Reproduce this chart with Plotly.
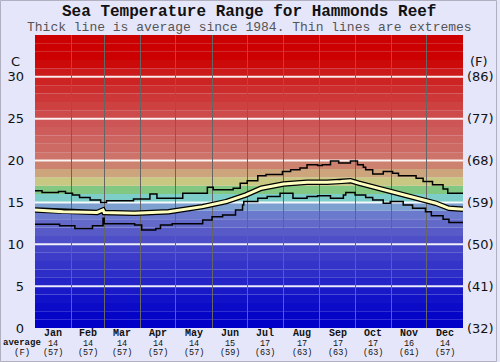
import plotly.graph_objects as go

# ---------------- data ----------------
months = ["Jan", "Feb", "Mar", "Apr", "May", "Jun", "Jul", "Aug", "Sep", "Oct", "Nov", "Dec"]
month_avg_c = [14, 14, 14, 14, 14, 15, 17, 17, 17, 17, 16, 14]
month_avg_f = [57, 57, 57, 57, 57, 59, 63, 63, 63, 63, 61, 57]
month_start_day = [0, 31, 59, 90, 120, 151, 181, 212, 243, 273, 304, 334, 365]

max_day = [0, 6, 20, 26, 32, 38, 47, 56, 61, 84, 98, 104, 126, 147, 152, 169, 175, 181, 190, 197,
           211, 218, 226, 232, 241, 245, 252, 259, 269, 275, 280, 282, 288, 297, 305, 310, 325,
           331, 339, 348, 352, 365]
max_c = [16.4, 16.2, 16.3, 16.1, 15.9, 15.6, 15.3, 15.0, 15.2, 15.4, 16.0, 15.5, 16.1, 16.8, 16.5,
         16.7, 17.3, 17.6, 18.2, 18.35, 18.7, 18.9, 19.1, 19.5, 19.4, 19.5, 19.95, 19.7, 19.95,
         19.5, 19.2, 18.9, 18.4, 18.7, 18.5, 18.2, 17.9, 17.5, 17.1, 16.6, 16.1, 16.1]

min_day = [0, 21, 34, 49, 58, 59, 85, 91, 103, 107, 117, 143, 151, 160, 171, 177, 178, 190, 198,
           209, 220, 232, 241, 252, 263, 265, 273, 282, 288, 297, 303, 314, 322, 333, 338, 348,
           353, 365]
min_c = [12.4, 12.2, 11.9, 12.2, 13.1, 12.45, 12.3, 11.7, 11.9, 12.3, 12.45, 12.9, 13.3, 13.5,
         14.1, 14.7, 15.1, 15.5, 15.7, 16.1, 15.5, 15.7, 15.8, 15.5, 15.9, 16.2, 15.9, 15.6, 15.3,
         14.9, 15.1, 14.7, 14.3, 13.9, 13.4, 13.0, 12.6, 12.6]

avg_day = [0, 24, 53, 58, 59, 85, 114, 143, 163, 180, 193, 212, 232, 249, 261, 269, 276, 293,
           310, 327, 342, 353, 365]
avg_c = [14.1, 13.9, 13.8, 14.1, 13.8, 13.7, 13.9, 14.5, 15.1, 15.9, 16.7, 17.2, 17.4, 17.4,
         17.5, 17.6, 17.3, 16.7, 16.1, 15.5, 14.9, 14.3, 14.2]

c_ticks = [0, 5, 10, 15, 20, 25, 30]
f_ticks = ["(32)", "(41)", "(50)", "(59)", "(68)", "(77)", "(86)"]

# ---------------- style ----------------
band_colors = [
    (0, 0, 200), (5, 5, 200), (12, 12, 200), (18, 18, 200), (25, 25, 200), (35, 35, 200),
    (45, 45, 200), (52, 52, 200), (60, 60, 200), (68, 68, 200), (78, 78, 200), (88, 90, 200),
    (98, 105, 200), (108, 122, 205), (125, 160, 208), (125, 205, 200), (130, 200, 130),
    (200, 200, 130), (205, 165, 125), (205, 130, 112), (205, 115, 105), (205, 106, 100),
    (205, 100, 95), (205, 92, 90), (205, 85, 85), (205, 75, 75), (205, 65, 65), (205, 55, 55),
    (205, 45, 45), (205, 35, 35), (204, 25, 25), (204, 10, 10), (204, 0, 0), (204, 0, 0),
    (204, 0, 0)]

BG = "#e6e6fa"
W, H = 500, 362
L, R, T, B = 35, 37, 35, 34
PW, PH = W - L - R, H - T - B
mono = "Liberation Mono, Courier New, monospace"
sans = "DejaVu Sans, Verdana, sans-serif"

fig = go.Figure()

# min / max thin lines
fig.add_trace(go.Scatter(x=max_day, y=max_c, mode="lines", line=dict(color="black", width=1.5, shape="hv"),
                         hoverinfo="skip", showlegend=False))
fig.add_trace(go.Scatter(x=min_day, y=min_c, mode="lines", line=dict(color="black", width=1.5, shape="hv"),
                         hoverinfo="skip", showlegend=False))
# average thick line (outline + fill)
fig.add_trace(go.Scatter(x=avg_day, y=avg_c, mode="lines", line=dict(color="black", width=5.5),
                         hoverinfo="skip", showlegend=False))
fig.add_trace(go.Scatter(x=avg_day, y=avg_c, mode="lines", line=dict(color="#ffffc0", width=3),
                         hoverinfo="skip", showlegend=False))
# invisible trace for the right axis
fig.add_trace(go.Scatter(x=[0], y=[0], yaxis="y2", mode="markers", marker=dict(opacity=0),
                         hoverinfo="skip", showlegend=False))

shapes = []
for i, c in enumerate(band_colors):
    shapes.append(dict(type="rect", xref="x", yref="y", x0=0, x1=365, y0=i, y1=i + 1,
                       fillcolor="rgb(%d,%d,%d)" % c, line=dict(width=0), layer="below"))
for v in c_ticks[1:]:
    shapes.append(dict(type="line", xref="x", yref="y", x0=0, x1=365, y0=v, y1=v,
                       line=dict(color="rgba(255,255,255,0.9)", width=2), layer="below"))
# outer border of image
shapes.append(dict(type="rect", xref="paper", yref="paper",
                   x0=-(L - 0.5) / PW, x1=1 + (R - 3.5) / PW, y0=-(B - 0.5) / PH, y1=1 + (T - 0.5) / PH,
                   line=dict(color="#b0b0c0", width=1), layer="below"))

annotations = [
    dict(text="<b>Sea Temperature Range for Hammonds Reef</b>", xref="paper", yref="paper",
         x=0.5, y=1 + (T - 12) / PH, xanchor="center", yanchor="middle", showarrow=False,
         font=dict(family=mono, size=16, color="#111")),
    dict(text="Thick line is average since 1984. Thin lines are extremes", xref="paper", yref="paper",
         x=0.5, y=1 + (T - 27) / PH, xanchor="center", yanchor="middle", showarrow=False,
         font=dict(family=mono, size=13, color="#555")),
    dict(text="C", xref="paper", yref="y", x=-(L - 22) / PW, y=31.8, xanchor="right", yanchor="middle",
         showarrow=False, font=dict(family=sans, size=13, color="#111")),
    dict(text="(F)", xref="paper", yref="y", x=1 + 5 / PW, y=31.8, xanchor="left", yanchor="middle",
         showarrow=False, font=dict(family=sans, size=13, color="#111")),
    dict(text="<b>average</b>", xref="paper", yref="paper", x=-(L - 22) / PW, y=-(343 - T - PH) / PH,
         xanchor="center", yanchor="middle", showarrow=False, font=dict(family=mono, size=9, color="#111")),
    dict(text="(F)", xref="paper", yref="paper", x=-(L - 22) / PW, y=-(352.5 - T - PH) / PH,
         xanchor="center", yanchor="middle", showarrow=False, font=dict(family=mono, size=9, color="#111")),
]
for i, m in enumerate(months):
    mid = (month_start_day[i] + month_start_day[i + 1]) / 2
    for txt, ypix, fnt in [("<b>%s</b>" % m, 333.5, 10), (str(month_avg_c[i]), 343.5, 8.5),
                           ("(%d)" % month_avg_f[i], 353, 8.5)]:
        annotations.append(dict(text=txt, xref="x", yref="paper", x=mid, y=-(ypix - T - PH) / PH,
                                xanchor="center", yanchor="middle", showarrow=False,
                                font=dict(family=mono, size=fnt, color="#111")))

fig.update_layout(
    width=W, height=H, margin=dict(l=L, r=R, t=T, b=B, pad=0, autoexpand=False),
    paper_bgcolor=BG, plot_bgcolor=BG,
    shapes=shapes, annotations=annotations, showlegend=False,
    xaxis=dict(range=[0, 365], tickvals=month_start_day[1:-1], showticklabels=False, ticks="",
               showgrid=True, gridcolor="#666666", gridwidth=1, zeroline=False, showline=False,
               fixedrange=True, automargin=False),
    yaxis=dict(range=[0, 35], tickvals=c_ticks, ticktext=[str(v) for v in c_ticks], ticks="",
               showgrid=False, zeroline=False, showline=False, ticklabelstandoff=10,
               tickfont=dict(family=sans, size=13, color="#111"), fixedrange=True, automargin=False),
    yaxis2=dict(range=[0, 35], overlaying="y", side="right", tickvals=c_ticks, ticktext=f_ticks,
                ticks="", showgrid=False, zeroline=False, showline=False, ticklabelstandoff=3,
                tickfont=dict(family=sans, size=13, color="#111"), fixedrange=True, automargin=False),
)

fig.write_html("out.html", config={"displayModeBar": False},
               post_script="document.body.style.margin='0';document.body.style.overflow='hidden';")
